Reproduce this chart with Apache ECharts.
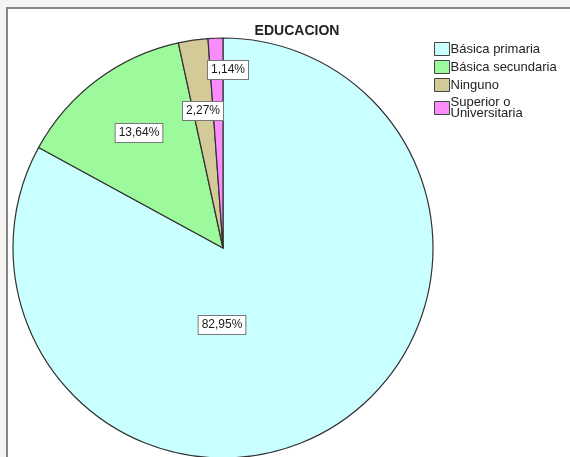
<!DOCTYPE html>
<html>
<head>
<meta charset="utf-8">
<script src="https://cdn.jsdelivr.net/npm/echarts@6/dist/echarts.min.js"></script>
<style>
  html, body { margin: 0; padding: 0; background: #f4f3f1; }
  .frame {
    position: absolute; left: 6px; top: 7px; right: 0; bottom: 0;
    background: #fff; border-left: 2px solid #858585; border-top: 2px solid #858585;
  }
  #chart { position: absolute; left: 0; top: 0; width: 570px; height: 457px; }
</style>
</head>
<body>
<div class="frame"></div>
<div id="chart"></div>
<script>
// datos
const categories = ['Básica primaria', 'Básica secundaria', 'Ninguno', 'Superior o Universitaria']
const percents = [82.95, 13.64, 2.27, 1.14]
const sliceColors = ['#c9ffff', '#9cfa9c', '#d3ca98', '#fb8cfb']
// desplazamiento de etiquetas respecto al centro
const labelShift = [[-1, 77], [-84, -115], [-20, -137], [5, -178]]

const chart = echarts.init(document.getElementById('chart'))
const option = {
  backgroundColor: 'transparent',
  animation: false,
  title: {
    text: 'EDUCACION',
    left: 292,
    top: 19,
    textAlign: 'center',
    textStyle: { fontFamily: 'Liberation Sans', fontSize: 14, fontWeight: 'bold', color: '#222' }
  },
  legend: {
    orient: 'vertical',
    left: 434,
    top: 42,
    padding: 0,
    itemWidth: 15,
    itemHeight: 13,
    itemGap: 4,
    icon: 'rect',
    selectedMode: false,
    formatter: name => name.replace(' o ', ' o\n'),
    itemStyle: { borderColor: '#444', borderWidth: 1 },
    textStyle: { fontFamily: 'Liberation Sans', fontSize: 13, color: '#222', lineHeight: 11, padding: [0, 0, 0, -4] }
  },
  series: [{
    type: 'pie',
    center: [223, 248],
    radius: 210,
    startAngle: 90,
    clockwise: true,
    itemStyle: { borderColor: '#333', borderWidth: 1.2 },
    emphasis: { disabled: true },
    label: {
      position: 'center',
      formatter: p => p.value.toFixed(2).replace('.', ',') + '%',
      fontFamily: 'Liberation Sans',
      fontSize: 12,
      color: '#1a1a1a',
      backgroundColor: '#fff',
      borderColor: '#777',
      borderWidth: 1,
      padding: [3, 3, 3, 3]
    },
    labelLayout: p => ({ dx: labelShift[p.dataIndex][0], dy: labelShift[p.dataIndex][1] }),
    data: categories.map((name, i) => ({
      name: name,
      value: percents[i],
      itemStyle: { color: sliceColors[i] }
    }))
  }]
}
chart.setOption(option)
</script>
</body>
</html>
